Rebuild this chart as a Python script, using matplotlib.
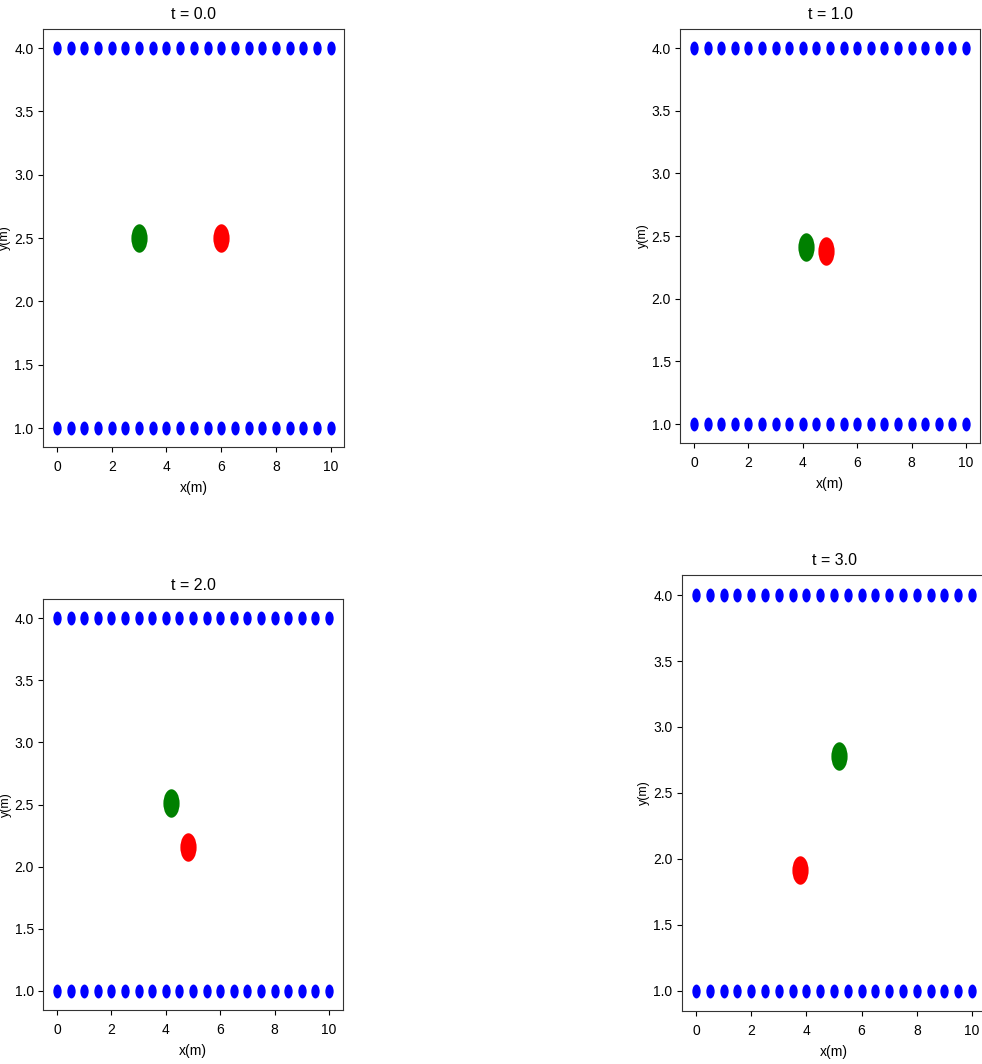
import matplotlib

matplotlib.use("Agg", force=True)
import matplotlib.pyplot as plt
import numpy as np
from matplotlib.path import Path
from matplotlib.transforms import Affine2D

plt.rcParams["font.family"] = ["Liberation Sans", "DejaVu Sans"]

# snapshot times and pedestrian positions
times = [0.0, 1.0, 2.0, 3.0]
green_x = [3.0, 4.12, 4.19, 5.18]
green_y = [2.50, 2.41, 2.51, 2.78]
red_x = [6.0, 4.85, 4.82, 3.77]
red_y = [2.50, 2.38, 2.16, 1.92]

# wall points
wall_x = np.arange(0, 10.01, 0.5)
wall_bottom = 1.0
wall_top = 4.0

# axes boxes in pixels: left, top, right, bottom
boxes = [
    (43.3, 29.0, 344.4, 447.0),
    (680.4, 29.2, 979.6, 442.8),
    (43.4, 599.4, 342.6, 1009.6),
    (682.2, 575.2, 985.8, 1010.8),
]

W, H = 982, 1064
fig = plt.figure(figsize=(W / 100, H / 100), dpi=100)

# tall ellipse markers
ell_small = Affine2D().scale(0.6, 1.0).transform_path(Path.unit_circle())
ell_big = Affine2D().scale(0.57, 1.0).transform_path(Path.unit_circle())

for i, t in enumerate(times):
    l, tp, r, b = boxes[i]
    ax = fig.add_axes([l / W, 1 - b / H, (r - l) / W, (b - tp) / H])
    ax.plot(wall_x, np.full_like(wall_x, wall_top), ls="none", marker=ell_small,
            ms=10, color="blue", mec="none")
    ax.plot(wall_x, np.full_like(wall_x, wall_bottom), ls="none", marker=ell_small,
            ms=10, color="blue", mec="none")
    ax.plot([green_x[i]], [green_y[i]], ls="none", marker=ell_big, ms=20.5,
            color="green", mec="none")
    ax.plot([red_x[i]], [red_y[i]], ls="none", marker=ell_big, ms=20.5,
            color="red", mec="none")
    ax.set_xlim(-0.5, 10.5)
    ax.set_ylim(0.85, 4.15)
    ax.set_xticks([0, 2, 4, 6, 8, 10])
    ax.set_yticks([1.0, 1.5, 2.0, 2.5, 3.0, 3.5, 4.0])
    ax.tick_params(labelsize=10)
    ax.tick_params(axis="x", pad=6)
    for s in ax.spines.values():
        s.set_color("#333333")
    ax.set_title(f"t = {t}", fontsize=11.5, pad=7)
    ax.set_xlabel("x(m)", fontsize=10, labelpad=5)
    ax.set_ylabel("y(m)", fontsize=9, labelpad=2)

fig.savefig("out.png", dpi=100)
